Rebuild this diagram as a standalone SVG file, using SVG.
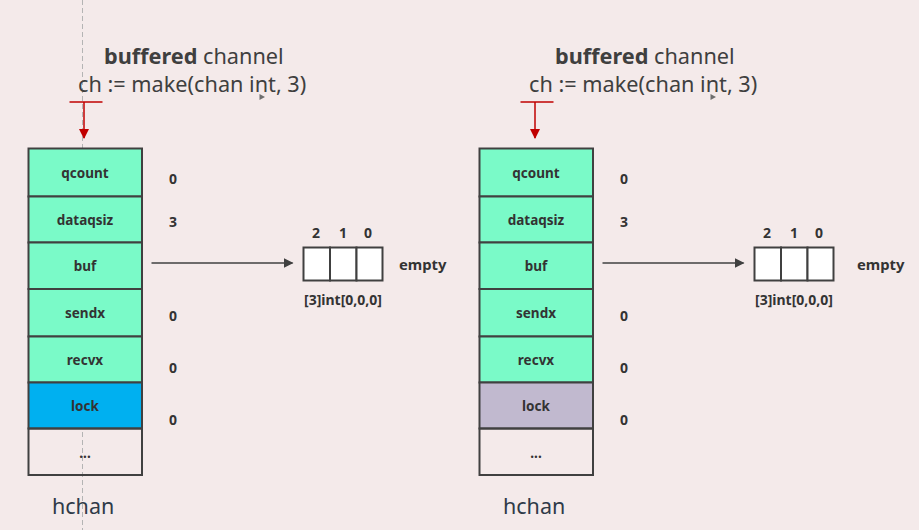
<svg xmlns="http://www.w3.org/2000/svg" width="919" height="530" viewBox="0 0 919 530">
<defs>
<style>
.title{font-family:"Noto Sans","Open Sans",sans-serif;font-size:21.7px;fill:#3f3f3f}
.hc{font-family:"Noto Sans","Open Sans",sans-serif;font-size:21.5px;fill:#2f3a48}
.fld{font-family:"Noto Sans","Open Sans",sans-serif;font-size:13.5px;font-weight:bold;fill:#333;text-anchor:middle}
.val{font-family:"Noto Sans","Open Sans",sans-serif;font-size:14px;font-weight:bold;fill:#333;text-anchor:middle}
.emp{font-family:"Noto Sans","Open Sans",sans-serif;font-size:14.8px;font-weight:bold;fill:#333}
.row{stroke:#404040;stroke-width:2}
.g{fill:#7afac8}
.cell{fill:#ffffff;stroke:#404040;stroke-width:2}
.conn{stroke:#404040;stroke-width:1.5;fill:none}
.red{stroke:#c00000;stroke-width:1.5;fill:none}
</style>
<marker id="ah" viewBox="0 0 10 10" refX="9" refY="5" markerWidth="10" markerHeight="10" markerUnits="userSpaceOnUse" orient="auto">
<path d="M0,0 L10,5 L0,10 z" fill="#404040"/>
</marker>
<marker id="rh" viewBox="0 0 10 10" refX="9" refY="5" markerWidth="10" markerHeight="10" markerUnits="userSpaceOnUse" orient="auto">
<path d="M0,0 L10,5 L0,10 z" fill="#c00000"/>
</marker>
</defs>
<rect width="919" height="530" fill="#f4eaea"/>
<line x1="82.5" y1="0" x2="82.5" y2="530" stroke="#b4b4b4" stroke-width="1" stroke-dasharray="5,3"/>

<g id="left-title">
<text class="title" x="104" y="64"><tspan font-weight="bold">buffered</tspan> channel</text>
<text class="title" x="78" y="92">ch := make(chan int, 3)</text>
<path d="M259.5,94 L265,97 L259.5,100 z" fill="#6e6e6e"/>
</g>
<g id="right-title">
<text class="title" x="555" y="64"><tspan font-weight="bold">buffered</tspan> channel</text>
<text class="title" x="529" y="92">ch := make(chan int, 3)</text>
<path d="M710.5,94 L716,97 L710.5,100 z" fill="#6e6e6e"/>
</g>

<g id="left-hchan">
<rect class="row g" x="28.5" y="148.5" width="113.5" height="48"/>
<rect class="row g" x="28.5" y="196.5" width="113.5" height="46"/>
<rect class="row g" x="28.5" y="242.5" width="113.5" height="46.5"/>
<rect class="row g" x="28.5" y="289" width="113.5" height="47.5"/>
<rect class="row g" x="28.5" y="336.5" width="113.5" height="46"/>
<rect class="row" fill="#00b0f0" x="28.5" y="382.5" width="113.5" height="46"/>
<rect class="row" fill="none" x="28.5" y="428.5" width="113.5" height="46.5"/>
<text class="fld" x="85" y="178">qcount</text>
<text class="fld" x="85" y="225">dataqsiz</text>
<text class="fld" x="85" y="271">buf</text>
<text class="fld" x="85" y="318">sendx</text>
<text class="fld" x="85" y="365">recvx</text>
<text class="fld" x="85" y="411">lock</text>
<text class="fld" x="85" y="458">...</text>
<text class="val" x="173" y="184">0</text>
<text class="val" x="173" y="227">3</text>
<text class="val" x="173" y="321">0</text>
<text class="val" x="173" y="373">0</text>
<text class="val" x="173" y="425">0</text>
<text class="hc" x="52" y="514">hchan</text>
</g>

<g id="right-hchan">
<rect class="row g" x="479.5" y="148.5" width="113.5" height="48"/>
<rect class="row g" x="479.5" y="196.5" width="113.5" height="46"/>
<rect class="row g" x="479.5" y="242.5" width="113.5" height="46.5"/>
<rect class="row g" x="479.5" y="289" width="113.5" height="47.5"/>
<rect class="row g" x="479.5" y="336.5" width="113.5" height="46"/>
<rect class="row" fill="#c1b9cf" x="479.5" y="382.5" width="113.5" height="46"/>
<rect class="row" fill="none" x="479.5" y="428.5" width="113.5" height="46.5"/>
<text class="fld" x="536" y="178">qcount</text>
<text class="fld" x="536" y="225">dataqsiz</text>
<text class="fld" x="536" y="271">buf</text>
<text class="fld" x="536" y="318">sendx</text>
<text class="fld" x="536" y="365">recvx</text>
<text class="fld" x="536" y="411">lock</text>
<text class="fld" x="536" y="458">...</text>
<text class="val" x="624" y="184">0</text>
<text class="val" x="624" y="227">3</text>
<text class="val" x="624" y="321">0</text>
<text class="val" x="624" y="373">0</text>
<text class="val" x="624" y="425">0</text>
<text class="hc" x="503" y="514">hchan</text>
</g>

<g id="left-buf">
<rect class="cell" x="303.5" y="247.5" width="26.5" height="33"/>
<rect class="cell" x="330" y="247.5" width="26.5" height="33"/>
<rect class="cell" x="356.5" y="247.5" width="26" height="33"/>
<text class="val" x="316" y="238">2</text>
<text class="val" x="343" y="238">1</text>
<text class="val" x="368" y="238">0</text>
<text class="emp" x="399" y="270">empty</text>
<text class="val" x="343" y="305" font-size="12.5">[3]int[0,0,0]</text>
</g>

<g id="right-buf">
<rect class="cell" x="754.5" y="247.5" width="26.5" height="33"/>
<rect class="cell" x="781" y="247.5" width="26.5" height="33"/>
<rect class="cell" x="807.5" y="247.5" width="26" height="33"/>
<text class="val" x="767" y="238">2</text>
<text class="val" x="794" y="238">1</text>
<text class="val" x="819" y="238">0</text>
<text class="emp" x="857" y="270">empty</text>
<text class="val" x="794" y="305" font-size="12.5">[3]int[0,0,0]</text>
</g>

<g id="connectors">
<line class="conn" x1="151.5" y1="263" x2="292.5" y2="263" marker-end="url(#ah)"/>
<line class="conn" x1="602.5" y1="263" x2="743.5" y2="263" marker-end="url(#ah)"/>
<line class="red" x1="69.5" y1="102" x2="102.5" y2="102"/>
<line class="red" x1="84" y1="102" x2="84" y2="138" marker-end="url(#rh)"/>
<line class="red" x1="520.5" y1="102" x2="553.5" y2="102"/>
<line class="red" x1="535" y1="102" x2="535" y2="138" marker-end="url(#rh)"/>
</g>
</svg>
